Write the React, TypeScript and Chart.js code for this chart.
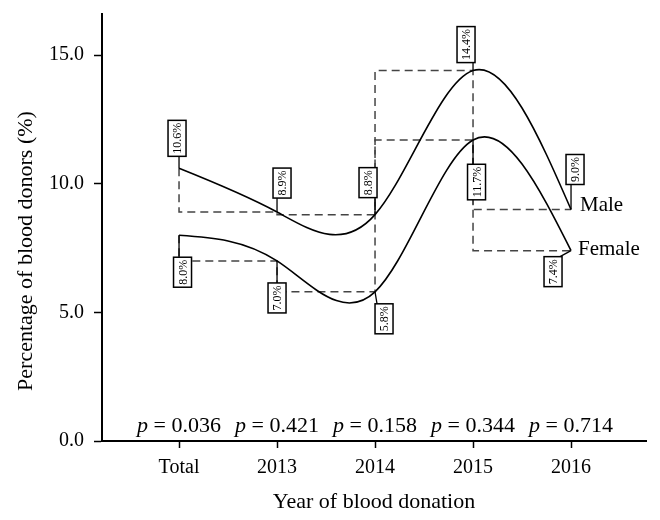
import React, { useEffect, useRef } from "react";
import { Chart, registerables } from "chart.js";

Chart.register(...registerables);

// ---------------- data ----------------
const categories = ["Total", "2013", "2014", "2015", "2016"];
const maleValues = [10.6, 8.9, 8.8, 14.4, 9.0];
const femaleValues = [8.0, 7.0, 5.8, 11.7, 7.4];
const maleLabels = ["10.6%", "8.9%", "8.8%", "14.4%", "9.0%"];
const femaleLabels = ["8.0%", "7.0%", "5.8%", "11.7%", "7.4%"];
const pValues = ["0.036", "0.421", "0.158", "0.344", "0.714"];
const yTicks = [0, 5, 10, 15];
const seriesNames = ["Male", "Female"];
const yTitle = "Percentage of blood donors (%)";
const xTitle = "Year of blood donation";

// ---------------- layout / style ----------------
const SERIF = '"Liberation Serif", "Times New Roman", serif';
const maleBoxOffsets = [[-2, -30], [5, -29], [-7, -32], [-7, -26], [4, -40]];
const femaleBoxOffsets = [[3.5, 37], [0, 37], [9, 27], [3.5, 42], [-18, 21]];
const seriesNameOffsets = [[9, -4], [7, -1]];
const yTitlePos = { x: 26, y: 251 };

function naturalSecondDerivs(ys: number[]): number[] {
  const n = ys.length;
  const M = new Array(n).fill(0);
  if (n < 3) return M;
  const m = n - 2;
  const a: number[] = [], b: number[] = [], c: number[] = [], d: number[] = [];
  for (let i = 1; i < n - 1; i++) {
    a.push(1); b.push(4); c.push(1);
    d.push(6 * (ys[i + 1] - 2 * ys[i] + ys[i - 1]));
  }
  for (let i = 1; i < m; i++) {
    const w = a[i] / b[i - 1];
    b[i] -= w * c[i - 1];
    d[i] -= w * d[i - 1];
  }
  const x = new Array(m);
  x[m - 1] = d[m - 1] / b[m - 1];
  for (let i = m - 2; i >= 0; i--) x[i] = (d[i] - c[i] * x[i + 1]) / b[i];
  for (let i = 0; i < m; i++) M[i + 1] = x[i];
  return M;
}

function splineSlopes(ys: number[]): number[] {
  const M = naturalSecondDerivs(ys);
  const n = ys.length;
  return ys.map((y, i) =>
    i < n - 1
      ? ys[i + 1] - y - (2 * M[i] + M[i + 1]) / 6
      : y - ys[i - 1] + (M[i - 1] + 2 * M[i]) / 6
  );
}

const splinePlugin = {
  id: "naturalSpline",
  beforeDatasetDraw(chart: any, args: any) {
    const ds = chart.data.datasets[args.index];
    if (!ds.naturalSpline) return;
    const meta = args.meta;
    const line = meta.dataset;
    if (line && line.updateControlPoints) line.updateControlPoints(chart.chartArea, meta.indexAxis);
    const xs = chart.scales.x;
    const ysc = chart.scales.y;
    const vals = ds.data.map((p: any) => p.y);
    const slopes = splineSlopes(vals);
    meta.data.forEach((pt: any, i: number) => {
      const xv = ds.data[i].x;
      const yv = vals[i];
      pt.cp1x = xs.getPixelForValue(xv - 1 / 3);
      pt.cp1y = ysc.getPixelForValue(yv - slopes[i] / 3);
      pt.cp2x = xs.getPixelForValue(xv + 1 / 3);
      pt.cp2y = ysc.getPixelForValue(yv + slopes[i] / 3);
    });
  },
};

const annotationPlugin = {
  id: "annotations",
  afterDatasetsDraw(chart: any) {
    const ctx = chart.ctx;
    const xs = chart.scales.x;
    const ysc = chart.scales.y;
    const series = [
      { vals: maleValues, labels: maleLabels, offs: maleBoxOffsets },
      { vals: femaleValues, labels: femaleLabels, offs: femaleBoxOffsets },
    ];
    ctx.save();
    // value boxes
    ctx.font = `12px ${SERIF}`;
    series.forEach((s) => {
      s.vals.forEach((v, i) => {
        const px = xs.getPixelForValue(i);
        const py = ysc.getPixelForValue(v);
        const cx = px + s.offs[i][0];
        const cy = py + s.offs[i][1];
        const tw = ctx.measureText(s.labels[i]).width;
        const bw = 18;
        const bh = tw + 5;
        const left = cx - bw / 2, right = cx + bw / 2;
        const top = cy - bh / 2, bottom = cy + bh / 2;
        const ax = Math.min(Math.max(px, left + 2), right - 2);
        const ay = cy < py ? bottom : top;
        ctx.strokeStyle = "#000";
        ctx.lineWidth = 1.3;
        ctx.setLineDash([]);
        ctx.beginPath();
        ctx.moveTo(px, py);
        ctx.lineTo(ax, ay);
        ctx.stroke();
        ctx.fillStyle = "#fff";
        ctx.fillRect(left, top, bw, bh);
        ctx.lineWidth = 1.5;
        ctx.strokeRect(left, top, bw, bh);
        ctx.save();
        ctx.translate(cx, cy);
        ctx.rotate(-Math.PI / 2);
        ctx.fillStyle = "#000";
        ctx.textAlign = "center";
        ctx.textBaseline = "middle";
        ctx.fillText(s.labels[i], 0, 1);
        ctx.restore();
      });
    });
    // series names
    ctx.fillStyle = "#000";
    ctx.font = `21px ${SERIF}`;
    ctx.textAlign = "left";
    ctx.textBaseline = "middle";
    [maleValues, femaleValues].forEach((vals, k) => {
      const last = vals.length - 1;
      const px = xs.getPixelForValue(last) + seriesNameOffsets[k][0];
      const py = ysc.getPixelForValue(vals[last]) + seriesNameOffsets[k][1];
      ctx.fillText(seriesNames[k], px, py);
    });
    // p values
    const baseY = ysc.getPixelForValue(0) - 9;
    ctx.textBaseline = "alphabetic";
    pValues.forEach((p, i) => {
      const px = xs.getPixelForValue(i);
      const italic = `italic 22px ${SERIF}`;
      const regular = `22px ${SERIF}`;
      ctx.font = italic;
      const w1 = ctx.measureText("p").width;
      ctx.font = regular;
      const rest = " = " + p;
      const w2 = ctx.measureText(rest).width;
      const x0 = px - (w1 + w2) / 2;
      ctx.font = italic;
      ctx.fillText("p", x0, baseY);
      ctx.font = regular;
      ctx.fillText(rest, x0 + w1, baseY);
    });
    // y axis title
    ctx.save();
    ctx.translate(yTitlePos.x, yTitlePos.y);
    ctx.rotate(-Math.PI / 2);
    ctx.font = `22px ${SERIF}`;
    ctx.textAlign = "center";
    ctx.textBaseline = "middle";
    ctx.fillStyle = "#000";
    ctx.fillText(yTitle, 0, 0);
    ctx.restore();
    ctx.restore();
  },
};

const zeroPadding = (s: any) => {
  s.paddingTop = 0;
  s.paddingBottom = 0;
  s.paddingLeft = 0;
  s.paddingRight = 0;
};

export default function App() {
  const ref = useRef<HTMLCanvasElement | null>(null);
  useEffect(() => {
    if (!ref.current) return;
    const toPts = (arr: number[]) => arr.map((v, i) => ({ x: i, y: v }));
    const chart = new Chart(ref.current, {
      type: "line",
      data: {
        datasets: [
          {
            label: "Male",
            data: toPts(maleValues),
            borderColor: "#000",
            borderWidth: 1.6,
            tension: 0.4,
            pointRadius: 0,
            fill: false,
            naturalSpline: true,
          } as any,
          {
            label: "Female",
            data: toPts(femaleValues),
            borderColor: "#000",
            borderWidth: 1.6,
            tension: 0.4,
            pointRadius: 0,
            fill: false,
            naturalSpline: true,
          } as any,
          {
            label: "Male step",
            data: toPts(maleValues),
            borderColor: "#444",
            borderWidth: 1.5,
            borderDash: [8, 5],
            stepped: "after",
            pointRadius: 0,
            fill: false,
          },
          {
            label: "Female step",
            data: toPts(femaleValues),
            borderColor: "#444",
            borderWidth: 1.5,
            borderDash: [8, 5],
            stepped: "after",
            pointRadius: 0,
            fill: false,
          },
        ],
      },
      options: {
        animation: false,
        responsive: false,
        devicePixelRatio: 1,
        layout: { padding: { left: 0, top: 14, right: 14, bottom: 0 } },
        plugins: { legend: { display: false }, tooltip: { enabled: false } },
        elements: { point: { radius: 0, hoverRadius: 0 } },
        scales: {
          x: {
            type: "linear",
            min: -0.786,
            max: 4.765,
            afterBuildTicks: (s: any) => {
              s.ticks = categories.map((_, i) => ({ value: i }));
            },
            afterFit: (s: any) => {
              s.height = 79;
              zeroPadding(s);
            },
            ticks: {
              callback: (v: any) => categories[Number(v)] ?? "",
              color: "#000",
              font: { family: SERIF, size: 20 },
              padding: 8,
              maxRotation: 0,
              autoSkip: false,
            },
            grid: {
              display: true,
              drawOnChartArea: false,
              drawTicks: true,
              tickLength: 7,
              tickWidth: 1.5,
              tickColor: "#000",
            },
            border: { display: true, color: "#000", width: 2 },
            title: {
              display: true,
              text: xTitle,
              color: "#000",
              font: { family: SERIF, size: 22 },
              padding: { top: 0, bottom: 5 },
            },
          },
          y: {
            type: "linear",
            min: 0,
            max: 16.6,
            afterBuildTicks: (s: any) => {
              s.ticks = yTicks.map((v) => ({ value: v }));
            },
            afterFit: (s: any) => {
              s.width = 102;
              zeroPadding(s);
            },
            ticks: {
              callback: (v: any) => Number(v).toFixed(1),
              color: "#000",
              font: { family: SERIF, size: 20 },
              padding: 10,
            },
            grid: {
              display: true,
              drawOnChartArea: false,
              drawTicks: true,
              tickLength: 8,
              tickWidth: 1.5,
              tickColor: "#000",
            },
            border: { display: true, color: "#000", width: 2 },
            title: { display: false },
          },
        },
      } as any,
      plugins: [splinePlugin, annotationPlugin],
    });
    return () => chart.destroy();
  }, []);
  return (
    <div style={{ position: "absolute", left: 0, top: 0, width: 660, height: 520, background: "#fff" }}>
      <canvas ref={ref} width={660} height={520} style={{ display: "block" }} />
    </div>
  );
}
